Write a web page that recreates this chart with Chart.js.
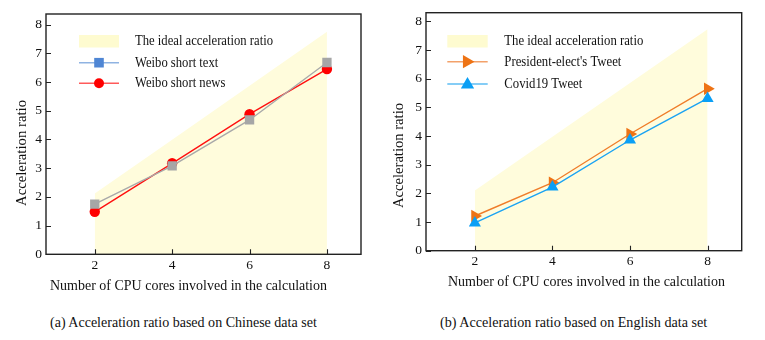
<!DOCTYPE html>
<html><head><meta charset="utf-8">
<script src="https://cdn.jsdelivr.net/npm/chart.js@4"></script>
<style>
html,body{margin:0;padding:0;background:#fff;width:765px;height:340px;overflow:hidden}
.wrap{position:absolute;top:0;height:300px}
#wa{left:0;width:380px}
#wb{left:380px;width:385px}
.cap{position:absolute;top:313px;font-family:"Liberation Serif","Times New Roman",serif;font-size:14.5px;line-height:18px;color:#111;white-space:nowrap;transform-origin:left center}
</style></head><body>
<div class="wrap" id="wa"><canvas id="ca" width="380" height="300"></canvas></div>
<div class="wrap" id="wb"><canvas id="cb" width="385" height="300"></canvas></div>
<div class="cap" id="capA" style="left:50px">(a) Acceleration ratio based on Chinese data set</div>
<div class="cap" id="capB" style="left:440px">(b) Acceleration ratio based on English data set</div>
<script>
// ---- data ----
const cores = [2, 4, 6, 8];
const xTickValues = [2, 4, 6, 8];
const yTickValues = [0, 1, 2, 3, 4, 5, 6, 7, 8];
const idealA = [2.12, 3.99, 5.87, 7.75];
const weiboShortText = [1.75, 3.08, 4.68, 6.68];
const weiboShortNews = [1.48, 3.17, 4.88, 6.45];
const idealB = [2.1, 3.97, 5.85, 7.72];
const presidentTweet = [1.21, 2.37, 4.07, 5.65];
const covidTweet = [0.97, 2.22, 3.86, 5.31];
const labelsA = ['The ideal acceleration ratio', 'Weibo short text', 'Weibo short news'];
const labelsB = ['The ideal acceleration ratio', "President-elect's Tweet", 'Covid19 Tweet'];
const xTitle = 'Number of CPU cores involved in the calculation';
const yTitle = 'Acceleration ratio';

const SERIF = '"Liberation Serif", "Times New Roman", serif';
const pts = arr => cores.map((c, i) => ({x: c, y: arr[i]}));

function marker(ctx, style, x, y, r, color) {
  ctx.save();
  ctx.fillStyle = color;
  ctx.beginPath();
  if (style === 'rect') {
    ctx.rect(x - r, y - r, 2 * r, 2 * r);
  } else if (style === 'circle') {
    ctx.arc(x, y, r, 0, Math.PI * 2);
  } else if (style === 'triUp') {
    ctx.moveTo(x, y - r);
    ctx.lineTo(x + r * 0.95, y + r * 0.65);
    ctx.lineTo(x - r * 0.95, y + r * 0.65);
    ctx.closePath();
  } else if (style === 'triRight') {
    ctx.moveTo(x + r, y);
    ctx.lineTo(x - r * 0.65, y - r * 0.95);
    ctx.lineTo(x - r * 0.65, y + r * 0.95);
    ctx.closePath();
  }
  ctx.fill();
  ctx.restore();
}

// draw text whose horizontal extent is squeezed to a given width (reference uses a narrow serif)
function squeezed(ctx, text, x, y, k, align) {
  ctx.save();
  ctx.translate(x, y);
  ctx.scale(k, 1);
  ctx.textAlign = align;
  ctx.fillText(text, 0, 0);
  ctx.restore();
}

function decoPlugin(deco) {
  return {
    id: 'deco',
    afterDraw(chart) {
      const {ctx, chartArea: a, scales: {x, y}} = chart;
      ctx.save();
      // frame
      ctx.strokeStyle = '#222';
      ctx.lineWidth = 1.4;
      ctx.strokeRect(a.left, a.top, a.right - a.left, a.bottom - a.top);
      // inward ticks
      ctx.lineWidth = 1.1;
      ctx.beginPath();
      xTickValues.forEach(v => { const px = Math.round(x.getPixelForValue(v)) + 0.5; ctx.moveTo(px, a.bottom); ctx.lineTo(px, a.bottom - 5); });
      yTickValues.forEach(v => { const py = Math.round(y.getPixelForValue(v)) + 0.5; ctx.moveTo(a.left, py); ctx.lineTo(a.left + 5, py); });
      ctx.stroke();
      // axis titles
      ctx.fillStyle = '#111';
      ctx.textBaseline = 'middle';
      ctx.font = '15.5px ' + SERIF;
      let k = deco.xt.w / ctx.measureText(xTitle).width;
      squeezed(ctx, xTitle, deco.xt.x, deco.xt.y, k, 'center');
      k = deco.yt.w / ctx.measureText(yTitle).width;
      ctx.save();
      ctx.translate(deco.yt.x, deco.yt.y);
      ctx.rotate(-Math.PI / 2);
      squeezed(ctx, yTitle, 0, 0, k, 'center');
      ctx.restore();
      // legend
      ctx.font = '14.5px ' + SERIF;
      const L = deco.legend;
      ctx.fillStyle = L.boxColor;
      ctx.fillRect(L.x1, L.boxTop, L.x2 - L.x1, L.boxH);
      k = L.w0 / ctx.measureText(deco.labels[0]).width;
      L.items.forEach((it, i) => {
        if (it.line) {
          ctx.strokeStyle = it.line;
          ctx.lineWidth = 1.6;
          ctx.beginPath();
          ctx.moveTo(L.x1, it.y); ctx.lineTo(L.x2, it.y);
          ctx.stroke();
          marker(ctx, it.marker, (L.x1 + L.x2) / 2, it.y, it.r, it.color);
        }
        ctx.fillStyle = '#111';
        squeezed(ctx, deco.labels[i], L.tx, it.y, k, 'left');
      });
      ctx.restore();
    }
  };
}

function axes(yMax, xHeight) {
  const tickFont = {family: SERIF, size: 13.5};
  return {
    x: {
      type: 'linear', min: 0.74, max: 8.88,
      afterBuildTicks: s => { s.ticks = xTickValues.map(v => ({value: v})); },
      afterFit: s => { s.height = xHeight; },
      ticks: {font: tickFont, color: '#111', padding: 3},
      grid: {display: false, drawTicks: false},
      border: {display: false}
    },
    y: {
      type: 'linear', min: 0, max: yMax,
      afterBuildTicks: s => { s.ticks = yTickValues.map(v => ({value: v})); },
      afterFit: s => { s.width = 46; },
      ticks: {font: tickFont, color: '#111', padding: 4},
      grid: {display: false, drawTicks: false},
      border: {display: false}
    }
  };
}

const baseOpts = {
  responsive: false, animation: false, devicePixelRatio: 1,
  plugins: {legend: {display: false}, tooltip: {enabled: false}},
  elements: {line: {tension: 0}}
};

const fillColor = '#fffcdc';

new Chart(document.getElementById('ca'), {
  type: 'line',
  data: {datasets: [
    {label: labelsA[1], data: pts(weiboShortText), borderColor: '#a9a9a9', borderWidth: 1.4,
     pointStyle: 'rect', pointRadius: 6.6, pointBackgroundColor: '#a6a6a6', pointBorderWidth: 0, order: 1},
    {label: labelsA[2], data: pts(weiboShortNews), borderColor: '#ff1010', borderWidth: 1.4,
     pointStyle: 'circle', pointRadius: 5.2, pointBackgroundColor: '#ff0000', pointBorderWidth: 0, order: 2},
    {label: labelsA[0], data: pts(idealA), fill: 'origin', backgroundColor: fillColor,
     borderWidth: 0, pointRadius: 0, order: 3}
  ]},
  options: Object.assign({}, baseOpts, {
    layout: {padding: {left: 0, right: 19, top: 14, bottom: 0}},
    scales: axes(8.37, 45.7)
  }),
  plugins: [decoPlugin({
    labels: labelsA,
    xt: {x: 188.5, y: 286, w: 277}, yt: {x: 22, y: 153, w: 106},
    legend: {x1: 79, x2: 119, boxTop: 35, boxH: 12.5, boxColor: '#fefbd0', tx: 135, w0: 138,
      items: [{y: 41.5}, {y: 62.7, line: '#8fb3e2', marker: 'rect', r: 4.8, color: '#4f86d4'},
              {y: 83.3, line: '#ff5a5a', marker: 'circle', r: 5, color: '#ff0000'}]}
  })]
});

new Chart(document.getElementById('cb'), {
  type: 'line',
  data: {datasets: [
    {label: labelsB[2], data: pts(covidTweet), borderColor: '#1ba3f2', borderWidth: 1.4,
     pointStyle: 'triangle', pointRadius: 7, pointBackgroundColor: '#0a9ff5', pointBorderWidth: 0, order: 1},
    {label: labelsB[1], data: pts(presidentTweet), borderColor: '#ef7d2a', borderWidth: 1.4,
     pointStyle: 'triangle', pointRotation: 90, pointRadius: 7.2, pointBackgroundColor: '#ee7314', pointBorderWidth: 0, order: 2},
    {label: labelsB[0], data: pts(idealB), fill: 'origin', backgroundColor: fillColor,
     borderWidth: 0, pointRadius: 0, order: 3}
  ]},
  options: Object.assign({}, baseOpts, {
    layout: {padding: {left: 0, right: 23.3, top: 12.7, bottom: 0}},
    scales: axes(8.3, 49.3)
  }),
  plugins: [decoPlugin({
    labels: labelsB,
    xt: {x: 206.5, y: 281.7, w: 277}, yt: {x: 19, y: 155.5, w: 105},
    legend: {x1: 67.3, x2: 107.7, boxTop: 35, boxH: 12.5, boxColor: '#fefbd0', tx: 124.3, w0: 139,
      items: [{y: 41.5}, {y: 61.7, line: '#f3a16a', marker: 'triRight', r: 7, color: '#ee7314'},
              {y: 84, line: '#5cbdf3', marker: 'triUp', r: 7, color: '#0a9ff5'}]}
  })]
});

// captions: fit to measured widths from the reference
[['capA', 267], ['capB', 267]].forEach(([id, w]) => {
  const el = document.getElementById(id);
  el.style.transform = 'scaleX(' + (w / el.offsetWidth) + ')';
});
</script>
</body></html>
